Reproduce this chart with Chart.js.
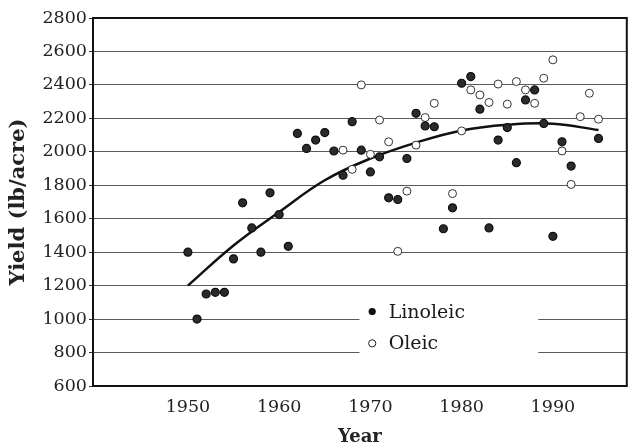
<!DOCTYPE html>
<html>
<head>
<meta charset="utf-8">
<script src="https://cdn.jsdelivr.net/npm/chart.js@4"></script>
<style>
  html, body { margin: 0; padding: 0; background: #fff; }
  #wrap { width: 632px; height: 448px; }
</style>
</head>
<body>
<div id="wrap"><canvas id="yieldChart" width="632" height="448"></canvas></div>
<script>
// Data
const linoleicYears = [1950, 1951, 1952, 1953, 1954, 1955, 1956, 1957, 1958, 1959, 1960, 1961, 1962, 1963, 1964, 1965, 1966, 1967, 1968, 1969, 1970, 1971, 1972, 1973, 1974, 1975, 1976, 1977, 1978, 1979, 1980, 1981, 1982, 1983, 1984, 1985, 1986, 1987, 1988, 1989, 1990, 1991, 1992, 1995];
const linoleicYield = [1400, 1000, 1150, 1160, 1160, 1360, 1695, 1545, 1400, 1755, 1625, 1435, 2110, 2020, 2070, 2115, 2005, 1860, 2180, 2010, 1880, 1970, 1725, 1715, 1960, 2230, 2155, 2150, 1540, 1665, 2410, 2450, 2255, 1545, 2070, 2145, 1935, 2310, 2370, 2170, 1495, 2060, 1915, 2080];

const oleicYears = [1967, 1968, 1969, 1970, 1971, 1972, 1973, 1974, 1975, 1976, 1977, 1979, 1980, 1981, 1982, 1983, 1984, 1985, 1986, 1987, 1988, 1989, 1990, 1991, 1992, 1993, 1994, 1995];
const oleicYield = [2010, 1895, 2400, 1985, 2190, 2060, 1405, 1765, 2040, 2205, 2290, 1750, 2125, 2370, 2340, 2295, 2405, 2285, 2420, 2370, 2290, 2440, 2550, 2005, 1805, 2210, 2350, 2195];

// fitted curve, read at 5 year steps
const trendYears = [1950, 1955, 1960, 1965, 1970, 1975, 1980, 1985, 1990, 1995];
const trendYield = [1200, 1440, 1640, 1830, 1960, 2055, 2128, 2162, 2168, 2130];

const xTicks = [1950, 1960, 1970, 1980, 1990];
const yTicks = [600, 800, 1000, 1200, 1400, 1600, 1800, 2000, 2200, 2400, 2600, 2800];

const seriesNames = ['Linoleic', 'Oleic'];

const toPoints = (xs, ys) => xs.map((x, i) => ({ x: x, y: ys[i] }));

Chart.defaults.font.family = '"DejaVu Serif", "Liberation Serif", serif';
Chart.defaults.color = '#222';

// frame round the plot
const frame = {
  id: 'frame',
  afterDatasetsDraw(chart) {
    const { ctx, chartArea: a } = chart;
    ctx.save();
    ctx.strokeStyle = '#111';
    ctx.lineWidth = 2;
    ctx.strokeRect(a.left, a.top, a.right - a.left, a.bottom - a.top);
    ctx.restore();
  }
};

// legend sits inside the plot, on a white patch over the grid
const insetLegend = {
  id: 'insetLegend',
  afterDatasetsDraw(chart) {
    const { ctx } = chart;
    const xs = chart.scales.x, ys = chart.scales.y;
    const left = xs.getPixelForValue(1968.8), right = xs.getPixelForValue(1988.4);
    const top = ys.getPixelForValue(1110), bottom = ys.getPixelForValue(730);
    ctx.save();
    ctx.fillStyle = '#fff';
    ctx.fillRect(left, top, right - left, bottom - top);

    const mx = xs.getPixelForValue(1970.2);
    const tx = xs.getPixelForValue(1972.0);
    const rows = [ys.getPixelForValue(1045), ys.getPixelForValue(855)];
    ctx.font = '19px "DejaVu Serif", serif';
    ctx.textBaseline = 'middle';
    rows.forEach((y, i) => {
      ctx.beginPath();
      ctx.arc(mx, y, 3.6, 0, Math.PI * 2);
      if (i === 0) {
        ctx.fillStyle = '#111';
        ctx.fill();
      } else {
        ctx.fillStyle = '#fff';
        ctx.fill();
        ctx.strokeStyle = '#222';
        ctx.lineWidth = 1;
        ctx.stroke();
      }
      ctx.fillStyle = '#1a1a1a';
      ctx.fillText(seriesNames[i], tx, y + 1);
    });
    ctx.restore();
  }
};

const ctx = document.getElementById('yieldChart').getContext('2d');
const yieldChart = new Chart(ctx, {
  type: 'scatter',
  data: {
    datasets: [
      {
        label: seriesNames[0],
        data: toPoints(linoleicYears, linoleicYield),
        backgroundColor: '#2b2b2b',
        borderColor: '#0d0d0d',
        borderWidth: 1.2,
        pointRadius: 4,
        order: 0
      },
      {
        label: seriesNames[1],
        data: toPoints(oleicYears, oleicYield),
        backgroundColor: '#fff',
        borderColor: '#333',
        borderWidth: 1,
        pointRadius: 4,
        order: 0
      },
      {
        type: 'line',
        label: 'fit',
        data: toPoints(trendYears, trendYield),
        borderColor: '#111',
        borderWidth: 2.5,
        pointRadius: 0,
        tension: 0.4,
        fill: false,
        order: 2
      }
    ]
  },
  options: {
    responsive: false,
    animation: false,
    layout: { padding: { top: 18, right: 1, left: 0, bottom: 0 } },
    plugins: {
      legend: { display: false },
      tooltip: { enabled: false }
    },
    scales: {
      x: {
        type: 'linear',
        min: 1939.6,
        max: 1998.1,
        afterBuildTicks: (scale) => { scale.ticks = xTicks.map(v => ({ value: v })); },
        afterFit: (scale) => { scale.height = 62; },
        grid: { display: false, drawTicks: false },
        border: { display: false },
        ticks: {
          autoSkip: false,
          maxRotation: 0,
          padding: 11,
          font: { size: 17.5 },
          callback: (v) => String(v)
        },
        title: {
          display: true,
          text: 'Year',
          font: { size: 18, weight: 'bold' },
          padding: { top: 0, bottom: 0 }
        }
      },
      y: {
        min: 600,
        max: 2800,
        afterBuildTicks: (scale) => { scale.ticks = yTicks.map(v => ({ value: v })); },
        afterFit: (scale) => { scale.width = 93; },
        grid: { color: '#5a5a5a', lineWidth: 1, tickLength: 4, tickColor: '#333' },
        border: { display: false },
        ticks: {
          autoSkip: false,
          padding: 2,
          font: { size: 17.5 },
          callback: (v) => String(v)
        },
        title: {
          display: true,
          text: 'Yield (lb/acre)',
          font: { size: 21, weight: 'bold' },
          padding: { top: 6, bottom: 0 }
        }
      }
    }
  },
  plugins: [frame, insetLegend]
});
</script>
</body>
</html>
